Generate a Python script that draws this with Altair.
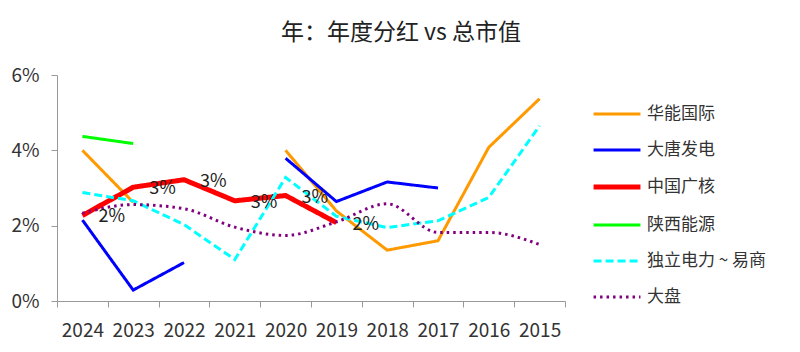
import altair as alt
import pandas as pd

years = ["2024", "2023", "2022", "2021", "2020", "2019", "2018", "2017", "2016", "2015"]
series_names = ["华能国际", "大唐发电", "中国广核", "陕西能源", "独立电力 ~ 易商", "大盘"]

huaneng = [4.0, 2.62, None, None, 4.0, 2.39, 1.35, 1.6, 4.08, 5.37]
datang = [2.15, 0.29, 1.02, None, 3.79, 2.64, 3.16, 3.0, None, None]
cgn = [2.27, 3.02, 3.22, 2.66, 2.8, 2.08, None, None, None, None]
shaanxi = [4.37, 4.18, None, None, None, None, None, None, None, None]
duli = [2.88, 2.66, 2.03, 1.1, 3.28, 2.25, 1.95, 2.13, 2.75, 4.65]
dapan = [2.33, 2.56, 2.45, 1.96, 1.74, 2.1, 2.58, 1.82, 1.82, 1.5]

colors = ["#FF9900", "#0000FF", "#FF0000", "#00FF00", "#00FFFF", "#800080"]
dashes = [[1, 0], [1, 0], [1, 0], [1, 0], [8, 4], [2.5, 4]]
widths = [3, 3, 5, 3, 3, 3]

all_series = [huaneng, datang, cgn, shaanxi, duli, dapan]

rows = []
for name, vals in zip(series_names, all_series):
    seg = 0
    prev_none = False
    for i, (yr, v) in enumerate(zip(years, vals)):
        if v is None:
            prev_none = True
            continue
        if prev_none:
            seg += 1
            prev_none = False
        rows.append({"year": yr, "idx": i, "series": name, "seg": f"{name}-{seg}", "value": v / 100})
df = pd.DataFrame(rows)

label_df = pd.DataFrame([
    {"year": yr, "idx": i, "value": v / 100}
    for i, (yr, v) in enumerate(zip(years, cgn)) if v is not None
])

FONT = "Noto Sans CJK SC"

x_enc = alt.X("year:N", sort=years, title=None,
              scale=alt.Scale(paddingInner=0, paddingOuter=0),
              axis=alt.Axis(tickBand="extent", labelAngle=0, labelFontSize=19,
                            labelColor="#333333", labelPadding=14, tickSize=6,
                            domainColor="#999999", tickColor="#999999", grid=False))
y_enc = alt.Y("value:Q", title=None,
              scale=alt.Scale(domain=[0, 0.06], nice=False),
              axis=alt.Axis(format=".0%", values=[0, 0.02, 0.04, 0.06], labelFontSize=19,
                            labelColor="#333333", labelPadding=12, tickSize=6,
                            domainColor="#999999", tickColor="#999999", grid=False))

legend = alt.Legend(title=None, orient="none", legendX=534, legendY=14,
                    symbolType="stroke", symbolSize=2200,
                    labelFontSize=17, labelColor="#333333",
                    labelFont=FONT, rowPadding=3, labelOffset=4,
                    labelLimit=300)

lines_base = alt.Chart(df).encode(
    x=x_enc, y=y_enc,
    color=alt.Color("series:N", scale=alt.Scale(domain=series_names, range=colors), legend=legend),
    strokeDash=alt.StrokeDash("series:N", scale=alt.Scale(domain=series_names, range=dashes), legend=legend),
    strokeWidth=alt.StrokeWidth("series:N", scale=alt.Scale(type="ordinal", domain=series_names, range=widths),
                                legend=legend),
    detail="seg:N",
    order=alt.Order("idx:Q"),
)

lines_straight = lines_base.mark_line().transform_filter(alt.datum.series != "大盘")
lines_smooth = lines_base.mark_line(interpolate="monotone").transform_filter(alt.datum.series == "大盘")

labels = alt.Chart(label_df).mark_text(
    align="left", baseline="middle", dx=16, dy=2, fontSize=18, font=FONT, color="#222222"
).encode(
    x=alt.X("year:N", sort=years),
    y=alt.Y("value:Q"),
    text=alt.Text("value:Q", format=".0%"),
)

chart = alt.layer(lines_straight, lines_smooth, labels).properties(
    width=508, height=226,
    title=alt.TitleParams("年：年度分红 vs 总市值", fontSize=23, font=FONT, fontWeight="normal",
                          color="#222222", anchor="middle", frame="bounds", offset=21, dx=12),
    padding={"left": 10, "top": 22, "right": 5, "bottom": 5},
).configure(font=FONT).configure_view(strokeWidth=0)

chart.save("out.html", embed_options={"renderer": "svg", "actions": False})
